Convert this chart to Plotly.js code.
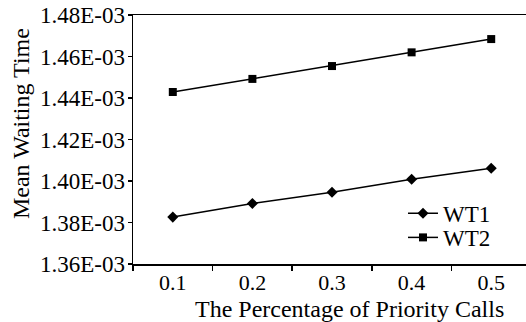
<!DOCTYPE html>
<html>
<head>
<meta charset="utf-8">
<script src="https://cdn.plot.ly/plotly-3.0.1.min.js"></script>
<style>html,body{margin:0;padding:0;background:#fff;}#chart{width:526px;height:322px;}</style>
</head>
<body>
<div id="chart"></div>
<script>
const categories = ['0.1', '0.2', '0.3', '0.4', '0.5'];
const wt1 = [1.3826e-3, 1.3892e-3, 1.3946e-3, 1.4008e-3, 1.4061e-3];
const wt2 = [1.4429e-3, 1.4492e-3, 1.4554e-3, 1.4620e-3, 1.4684e-3];
const yTickVals = [1.36e-3, 1.38e-3, 1.40e-3, 1.42e-3, 1.44e-3, 1.46e-3, 1.48e-3];
const yTickText = ['1.36E-03', '1.38E-03', '1.40E-03', '1.42E-03', '1.44E-03', '1.46E-03', '1.48E-03'];

const FONT = 'Liberation Serif, Times New Roman, serif';

const traces = [
  {x: categories, y: wt1, name: 'WT1', type: 'scatter', mode: 'lines+markers',
   line: {color: '#000', width: 1.5}, marker: {symbol: 'diamond', size: 8.5, color: '#000'}, legend: 'legend'},
  {x: categories, y: wt2, name: 'WT2', type: 'scatter', mode: 'lines+markers',
   line: {color: '#000', width: 1.5}, marker: {symbol: 'square', size: 8, color: '#000'}, legend: 'legend2'}
];

const layout = {
  width: 526, height: 322,
  margin: {l: 133, r: 0, t: 15, b: 58},
  paper_bgcolor: '#fff', plot_bgcolor: '#fff',
  font: {family: FONT, color: '#000', size: 23},
  showlegend: true,
  xaxis: {
    type: 'category', range: [-0.5, 4.437], tickson: 'boundaries',
    showline: true, linecolor: '#000', linewidth: 1.5, mirror: true,
    ticks: 'outside', ticklen: 5, tickwidth: 1.5, tickcolor: '#000',
    ticklabelstandoff: -2,
    showgrid: false, zeroline: false,
    tickfont: {family: FONT, size: 22, color: '#000'}
  },
  yaxis: {
    range: [1.36e-3, 1.48e-3], tickvals: yTickVals, ticktext: yTickText,
    showline: true, linecolor: '#000', linewidth: 1.5,
    ticks: 'outside', ticklen: 4, tickwidth: 1.5, tickcolor: '#000',
    ticklabelstandoff: -2,
    showgrid: false, zeroline: false,
    tickfont: {family: FONT, size: 23, color: '#000'}
  },
  legend: {x: 0.687, y: 0.29, xanchor: 'left', yanchor: 'top', bgcolor: 'rgba(0,0,0,0)',
           font: {family: FONT, size: 23, color: '#000'}, itemwidth: 30},
  legend2: {x: 0.687, y: 0.193, xanchor: 'left', yanchor: 'top', bgcolor: 'rgba(0,0,0,0)',
           font: {family: FONT, size: 23, color: '#000'}, itemwidth: 30},
  annotations: [
    {text: 'The Percentage of Priority Calls', xref: 'paper', yref: 'paper', x: 0.551, y: -0.182,
     xanchor: 'center', yanchor: 'middle', showarrow: false, font: {family: FONT, size: 24, color: '#000'}},
    {text: 'Mean Waiting Time', xref: 'paper', yref: 'paper', x: -0.285, y: 0.566, textangle: -90,
     xanchor: 'center', yanchor: 'middle', showarrow: false, font: {family: FONT, size: 24, color: '#000'}}
  ]
};

Plotly.newPlot('chart', traces, layout, {displayModeBar: false, staticPlot: true});
</script>
</body>
</html>
